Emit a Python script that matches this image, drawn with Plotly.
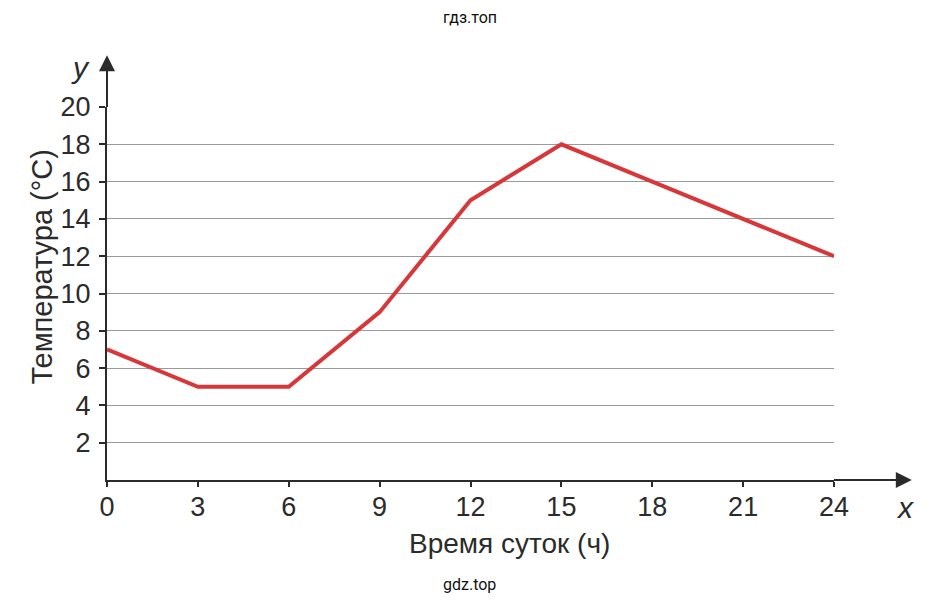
import plotly.graph_objects as go

# данные графика: температура в течение суток
hours = [0, 3, 6, 9, 12, 15, 18, 21, 24]
temperature = [7, 5, 5, 9, 15, 18, 16, 14, 12]
x_ticks = [0, 3, 6, 9, 12, 15, 18, 21, 24]
y_ticks = [2, 4, 6, 8, 10, 12, 14, 16, 18, 20]

FONT = "Liberation Sans"
INK = "#2b2b2b"

fig = go.Figure(
    go.Scatter(
        x=hours,
        y=temperature,
        mode="lines",
        line=dict(color="#d8373a", width=4),
        hoverinfo="skip",
    )
)

# страница добавляет 8px отступа, поэтому фигура чуть меньше окна
fig.update_layout(
    width=937,
    height=596,
    margin=dict(l=99, r=111, t=99, b=124),
    paper_bgcolor="white",
    plot_bgcolor="white",
    showlegend=False,
    font=dict(family=FONT, color=INK, size=27),
    xaxis=dict(
        range=[0, 24],
        tickvals=x_ticks,
        ticks="outside",
        ticklen=5,
        tickwidth=1.5,
        tickcolor=INK,
        ticklabelstandoff=-3,
        showgrid=False,
        zeroline=False,
        showline=True,
        linecolor=INK,
        linewidth=2,
    ),
    yaxis=dict(
        range=[0, 20],
        tickvals=y_ticks,
        ticks="outside",
        ticklen=6,
        tickwidth=1.5,
        tickcolor=INK,
        ticklabelstandoff=3,
        showgrid=True,
        gridcolor="#9a9a9a",
        gridwidth=1,
        zeroline=False,
        showline=True,
        linecolor=INK,
        linewidth=2,
    ),
)

# продолжения осей со стрелками
fig.add_shape(type="line", xref="paper", yref="paper", x0=1, x1=1.10, y0=0, y1=0,
              line=dict(color=INK, width=2))
fig.add_shape(type="line", xref="paper", yref="paper", x0=0, x1=0, y0=1, y1=1.13,
              line=dict(color=INK, width=2))
fig.add_annotation(xref="paper", yref="paper", x=1.107, y=0, ax=-24, ay=0, text="",
                   showarrow=True, arrowhead=2, arrowsize=1.6, arrowwidth=2, arrowcolor=INK)
fig.add_annotation(xref="paper", yref="paper", x=0, y=1.139, ax=0, ay=24, text="",
                   showarrow=True, arrowhead=2, arrowsize=1.6, arrowwidth=2, arrowcolor=INK)


def label(x, y, text, **kw):
    fig.add_annotation(xref="paper", yref="paper", x=x, y=y, text=text, showarrow=False,
                       xanchor="center", yanchor="middle", **kw)


label(1.098, -0.075, "<i>x</i>", font=dict(size=30))
label(-0.037, 1.107, "<i>y</i>", font=dict(size=30))
label(0.554, -0.169, "Время суток (ч)", font=dict(size=28))
label(-0.09, 0.571, "Температура (°C)", textangle=-90, font=dict(size=29))

# водяные знаки
label(0.499, 1.241, "гдз.топ", font=dict(family="Roboto", size=16, color="#111111"))
label(0.499, -0.2815, "gdz.top", font=dict(family="Roboto", size=16, color="#111111"))

fig.write_html("out.html")
